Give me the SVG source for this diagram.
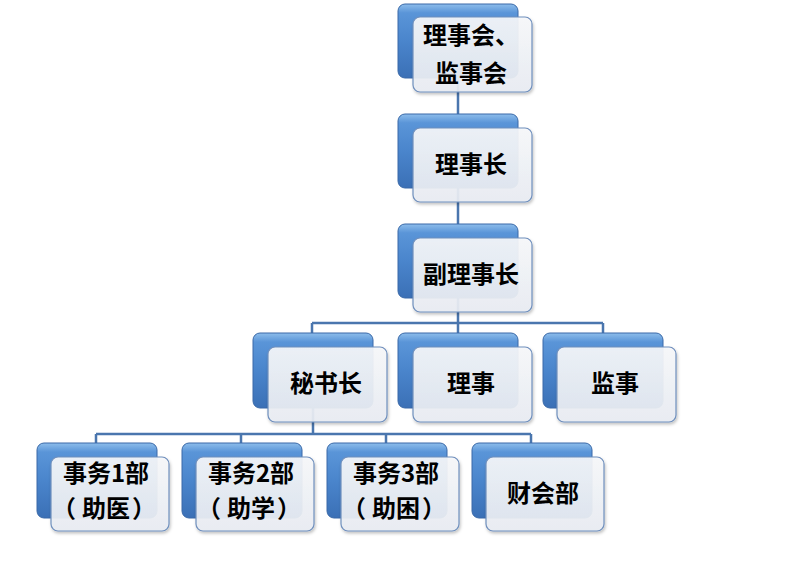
<svg xmlns="http://www.w3.org/2000/svg" width="800" height="565" viewBox="0 0 800 565">
<defs>
<linearGradient id="gb" x1="0" y1="0" x2="0" y2="1">
<stop offset="0" stop-color="#8DBDEB"/>
<stop offset="0.12" stop-color="#5A95D8"/>
<stop offset="0.5" stop-color="#4A85CC"/>
<stop offset="1" stop-color="#3B70B6"/>
</linearGradient>
<linearGradient id="gf" x1="0" y1="0" x2="0" y2="1">
<stop offset="0" stop-color="#F7F8FA"/>
<stop offset="1" stop-color="#E9EDF3"/>
</linearGradient>
<filter id="sh" x="-10%" y="-10%" width="125%" height="130%">
<feDropShadow dx="1" dy="2" stdDeviation="1.5" flood-color="#000" flood-opacity="0.25"/>
</filter>
<style>
.b{fill:url(#gb);stroke:#3A69A8;stroke-width:1}
.f{fill:url(#gf);fill-opacity:0.92;stroke:#6F8FBD;stroke-width:1.2;filter:url(#sh)}
.t{font-family:"Noto Sans CJK SC","Noto Sans",sans-serif;font-weight:bold;font-size:24px;fill:#000;text-anchor:middle}
.c{fill:none;stroke:#4A76AE;stroke-width:2.5}
</style>
</defs>
<rect width="800" height="565" fill="#fff"/>
<g id="connectors">
<path class="c" d="M458,55 V323"/>
<path class="c" d="M312,323 H603 M312,323 V345 M458,323 V345 M603,323 V345"/>
<path class="c" d="M313,384 V434 M96,434 H531 M96,434 V455 M241,434 V455 M386,434 V455 M531,434 V455"/>
</g>
<g id="n1">
<rect class="b" x="398" y="4" width="120" height="74" rx="7"/>
<rect class="f" x="413" y="17" width="119" height="75" rx="7"/>
<text class="t" x="471" y="44">理事会、</text>
<text class="t" x="471" y="82">监事会</text>
</g>
<g id="n2">
<rect class="b" x="398" y="114" width="120" height="74" rx="7"/>
<rect class="f" x="413" y="128" width="119" height="74" rx="7"/>
<text class="t" x="471" y="173">理事长</text>
</g>
<g id="n3">
<rect class="b" x="398" y="224" width="120" height="74" rx="7"/>
<rect class="f" x="413" y="238" width="119" height="74" rx="7"/>
<text class="t" x="471" y="283">副理事长</text>
</g>
<g id="n4">
<rect class="b" x="253" y="333" width="120" height="75" rx="7"/>
<rect class="f" x="268" y="347" width="119" height="75" rx="7"/>
<text class="t" x="326" y="392">秘书长</text>
</g>
<g id="n5">
<rect class="b" x="398" y="333" width="120" height="75" rx="7"/>
<rect class="f" x="413" y="347" width="119" height="75" rx="7"/>
<text class="t" x="471" y="392">理事</text>
</g>
<g id="n6">
<rect class="b" x="543" y="333" width="120" height="75" rx="7"/>
<rect class="f" x="557" y="347" width="119" height="75" rx="7"/>
<text class="t" x="615" y="392">监事</text>
</g>
<g id="n7">
<rect class="b" x="37" y="443" width="120" height="75" rx="7"/>
<rect class="f" x="51" y="457" width="118" height="74" rx="7"/>
<text class="t" x="106" y="482">事务1部</text>
<text class="t" y="517"><tspan x="64">（</tspan><tspan x="106">助医</tspan><tspan x="144">）</tspan></text>
</g>
<g id="n8">
<rect class="b" x="182" y="443" width="120" height="75" rx="7"/>
<rect class="f" x="196" y="457" width="118" height="74" rx="7"/>
<text class="t" x="251" y="482">事务2部</text>
<text class="t" y="517"><tspan x="209">（</tspan><tspan x="251">助学</tspan><tspan x="289">）</tspan></text>
</g>
<g id="n9">
<rect class="b" x="327" y="443" width="120" height="75" rx="7"/>
<rect class="f" x="341" y="457" width="118" height="74" rx="7"/>
<text class="t" x="396" y="482">事务3部</text>
<text class="t" y="517"><tspan x="354">（</tspan><tspan x="396">助困</tspan><tspan x="434">）</tspan></text>
</g>
<g id="n10">
<rect class="b" x="472" y="443" width="120" height="75" rx="7"/>
<rect class="f" x="486" y="457" width="118" height="74" rx="7"/>
<text class="t" x="543" y="502">财会部</text>
</g>
</svg>
